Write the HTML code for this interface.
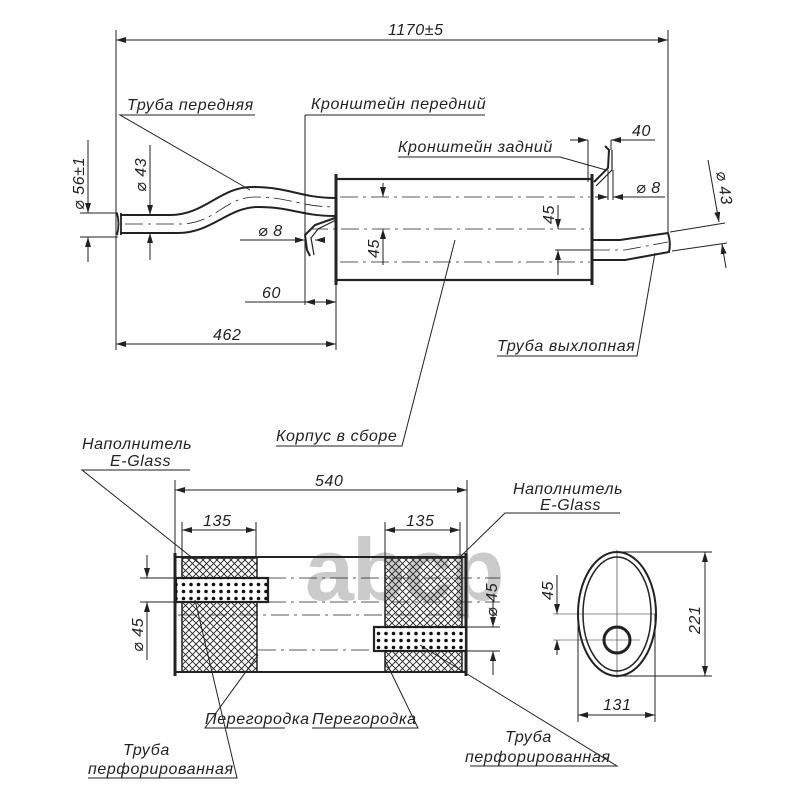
<!DOCTYPE html>
<html><head><meta charset="utf-8"><style>
html,body{margin:0;padding:0;background:#fff}
svg text{font-family:"Liberation Sans","DejaVu Sans",sans-serif;font-style:italic;fill:#222;letter-spacing:0.6px}
</style></head><body>
<svg width="800" height="800" viewBox="0 0 800 800" xmlns="http://www.w3.org/2000/svg">
<defs>
<marker id="a" viewBox="0 0 10 6" refX="10" refY="3" markerWidth="10" markerHeight="6" orient="auto-start-reverse" markerUnits="userSpaceOnUse"><path d="M0,0 L10,3 L0,6 z" fill="#222"/></marker>
<pattern id="hatch" width="7" height="7" patternUnits="userSpaceOnUse"><path d="M0,0 L7,7 M7,0 L0,7" stroke="#222" stroke-width="0.9"/></pattern>
<pattern id="dots" width="7.5" height="7" patternUnits="userSpaceOnUse"><circle cx="3.5" cy="3.5" r="1.8" fill="#111"/></pattern>
</defs>
<!-- watermark -->
<text x="305" y="600" font-size="88" font-weight="bold" style="font-style:normal;fill:#c2c2c2;letter-spacing:-2px" opacity="0.85">abcp</text>

<g stroke="#222" fill="none" stroke-width="1">
<line x1="116" y1="30" x2="116" y2="350"/>
<line x1="668" y1="30" x2="668" y2="232"/>
<line x1="116" y1="40" x2="668" y2="40" marker-start="url(#a)" marker-end="url(#a)"/>
<rect x="336" y="179" width="256" height="101" stroke-width="2.2"/>
<line x1="336" y1="174" x2="336" y2="285" stroke-width="3"/>
<line x1="592" y1="174" x2="592" y2="285" stroke-width="3"/>
<g stroke-dasharray="18,5,3,5" stroke-width="0.8">
<line x1="340" y1="197" x2="590" y2="197"/>
<line x1="310" y1="229" x2="590" y2="229"/>
<line x1="340" y1="262" x2="590" y2="262"/>
<path d="M125,224 L180,224 C215,224 225,197 255,197 C290,197 300,207 336,207"/>
<path d="M592,250 L625,250 L668,242"/>
</g>
<path d="M120,215 L170,215 C205,215 220,187 252,187 C290,187 300,198 336,198" stroke-width="2"/>
<path d="M120,233 L178,233 C212,233 228,207 258,207 C292,207 300,216 336,216" stroke-width="2"/>
<path d="M117,213 Q120,224 117,235 M121,213 L121,235" stroke-width="1.8"/>
<path d="M335,218 L315,225 L305,235 L307,250 L310,256" stroke-width="2"/>
<path d="M336,220 L318,229 L311,238 L314,255" stroke-width="1.2"/>
<path d="M594,182 L608,168 L609,150 L605,146" stroke-width="2"/>
<path d="M596,186 L612,170 L612,150" stroke-width="1.2"/>
<path d="M592,240 L620,240 L668,233 Q671,243 669,252 L625,260 L592,260" stroke-width="2"/>
<line x1="305" y1="115" x2="305" y2="305"/>
<line x1="336" y1="285" x2="336" y2="350"/>
<line x1="245" y1="302" x2="305" y2="302"/>
<line x1="305" y1="302" x2="336" y2="302" marker-start="url(#a)" marker-end="url(#a)"/>
<line x1="116" y1="344" x2="336" y2="344" marker-start="url(#a)" marker-end="url(#a)"/>
<line x1="240" y1="240" x2="305" y2="240" marker-end="url(#a)"/>
<line x1="315" y1="240" x2="325" y2="240" marker-start="url(#a)"/>
<line x1="80" y1="213" x2="118" y2="213"/><line x1="80" y1="237" x2="118" y2="237"/>
<line x1="88" y1="140" x2="88" y2="213" marker-end="url(#a)"/>
<line x1="88" y1="262" x2="88" y2="237" marker-end="url(#a)"/>
<line x1="150" y1="145" x2="150" y2="215" marker-end="url(#a)"/>
<line x1="150" y1="260" x2="150" y2="233" marker-end="url(#a)"/>
<line x1="383" y1="183" x2="383" y2="197" marker-end="url(#a)"/>
<line x1="383" y1="265" x2="383" y2="229" marker-end="url(#a)"/>
<line x1="558" y1="205" x2="558" y2="229" marker-end="url(#a)"/>
<line x1="558" y1="275" x2="558" y2="250" marker-end="url(#a)"/>
<line x1="555" y1="250" x2="592" y2="250"/>
<line x1="588" y1="140" x2="588" y2="182"/><line x1="611" y1="140" x2="611" y2="150"/>
<line x1="570" y1="140" x2="588" y2="140" marker-end="url(#a)"/>
<line x1="655" y1="140" x2="611" y2="140" marker-end="url(#a)"/>
<line x1="608" y1="170" x2="608" y2="200"/><line x1="613" y1="170" x2="613" y2="200"/>
<line x1="595" y1="197" x2="608" y2="197" marker-end="url(#a)"/>
<line x1="665" y1="197" x2="613" y2="197" marker-end="url(#a)"/>
<line x1="670" y1="232" x2="725" y2="223"/><line x1="672" y1="251" x2="727" y2="243"/>
<line x1="708" y1="160" x2="719" y2="222" marker-end="url(#a)"/>
<line x1="726" y1="268" x2="722" y2="244" marker-end="url(#a)"/>
<polyline points="255,115 120,115 250,190"/>
<line x1="305" y1="115" x2="485" y2="115"/>
<polyline points="398,157 560,157 606,170"/>
<polyline points="497,356 637,356 655,253"/>
<polyline points="276,446 402,446 455,240"/>

<line x1="175" y1="480" x2="175" y2="553"/><line x1="467" y1="480" x2="467" y2="553"/>
<line x1="175" y1="490" x2="467" y2="490" marker-start="url(#a)" marker-end="url(#a)"/>
<line x1="182" y1="522" x2="182" y2="557"/><line x1="256" y1="522" x2="256" y2="557"/>
<line x1="182" y1="530" x2="256" y2="530" marker-start="url(#a)" marker-end="url(#a)"/>
<line x1="385" y1="522" x2="385" y2="557"/><line x1="460" y1="522" x2="460" y2="557"/>
<line x1="385" y1="530" x2="460" y2="530" marker-start="url(#a)" marker-end="url(#a)"/>
<rect x="182" y="558" width="75" height="114" fill="url(#hatch)" stroke-width="1.5"/>
<rect x="385" y="558" width="77" height="114" fill="url(#hatch)" stroke-width="1.5"/>
<rect x="175" y="557" width="291" height="115" stroke-width="2"/>
<line x1="175" y1="553" x2="175" y2="676" stroke-width="3"/>
<line x1="466" y1="553" x2="466" y2="676" stroke-width="3"/>
<rect x="176" y="578" width="92" height="24" fill="#fff" stroke-width="2.2"/>
<rect x="176" y="578" width="92" height="24" fill="url(#dots)" stroke="none"/>
<rect x="374" y="627" width="92" height="24" fill="#fff" stroke-width="2.2"/>
<rect x="374" y="627" width="92" height="24" fill="url(#dots)" stroke="none"/>
<g stroke-dasharray="18,5,3,5" stroke-width="0.8">
<line x1="268" y1="578" x2="500" y2="578"/>
<line x1="268" y1="602" x2="500" y2="602"/>
<line x1="178" y1="615" x2="466" y2="615"/>
<line x1="258" y1="650" x2="374" y2="650"/>
</g>
<line x1="140" y1="578" x2="176" y2="578"/><line x1="140" y1="602" x2="176" y2="602"/>
<line x1="147" y1="555" x2="147" y2="578" marker-end="url(#a)"/>
<line x1="147" y1="660" x2="147" y2="602" marker-end="url(#a)"/>
<line x1="466" y1="627" x2="500" y2="627"/><line x1="466" y1="651" x2="500" y2="651"/>
<line x1="493" y1="600" x2="493" y2="627" marker-end="url(#a)"/>
<line x1="493" y1="675" x2="493" y2="651" marker-end="url(#a)"/>
<polyline points="190,470 82,470 205,568"/>
<polyline points="620,513 505,513 460,557"/>
<polyline points="285,728 205,728 258,655"/>
<polyline points="312,728 418,728 385,660"/>
<polyline points="88,778 237,778 195,600"/>
<polyline points="470,766 617,766 420,645"/>
<ellipse cx="617" cy="614" rx="39" ry="62" stroke-width="2"/>
<ellipse cx="617" cy="614" rx="34" ry="57" stroke-width="1.5"/>
<circle cx="617" cy="640" r="13" stroke-width="3"/>
<line x1="617" y1="550" x2="617" y2="678" stroke-width="0.6"/>
<line x1="553" y1="614" x2="655" y2="614" stroke-width="0.6"/>
<line x1="553" y1="640" x2="640" y2="640" stroke-width="0.6"/>
<line x1="557" y1="575" x2="557" y2="614" marker-end="url(#a)"/>
<line x1="557" y1="655" x2="557" y2="640" marker-end="url(#a)"/>
<line x1="617" y1="552" x2="712" y2="552"/><line x1="617" y1="676" x2="712" y2="676"/>
<line x1="705" y1="552" x2="705" y2="676" marker-start="url(#a)" marker-end="url(#a)"/>
<line x1="578" y1="614" x2="578" y2="722"/><line x1="655" y1="614" x2="655" y2="722"/>
<line x1="578" y1="715" x2="655" y2="715" marker-start="url(#a)" marker-end="url(#a)"/>
</g>

<g font-size="16">
<text x="388" y="35">1170±5</text>
<text x="127" y="110">Труба передняя</text>
<text x="311" y="109">Кронштейн передний</text>
<text x="398" y="152">Кронштейн задний</text>
<text x="632" y="136">40</text>
<text x="636" y="193">⌀ 8</text>
<text x="258" y="236">⌀ 8</text>
<text x="262" y="298">60</text>
<text x="213" y="340">462</text>
<text x="497" y="351">Труба выхлопная</text>
<text x="276" y="441">Корпус в сборе</text>
<text transform="translate(84,210) rotate(-90)">⌀ 56±1</text>
<text transform="translate(146,192) rotate(-90)">⌀ 43</text>
<text transform="translate(379,258) rotate(-90)">45</text>
<text transform="translate(554,224) rotate(-90)">45</text>
<text transform="translate(716,172) rotate(80)">⌀ 43</text>
<text x="315" y="486">540</text>
<text x="203" y="526">135</text>
<text x="406" y="526">135</text>
<text x="82" y="449">Наполнитель</text>
<text x="110" y="466">E-Glass</text>
<text x="513" y="494">Наполнитель</text>
<text x="540" y="510">E-Glass</text>
<text x="205" y="724">Перегородка</text>
<text x="312" y="724">Перегородка</text>
<text x="123" y="755">Труба</text>
<text x="88" y="774">перфорированная</text>
<text x="505" y="742">Труба</text>
<text x="465" y="762">перфорированная</text>
<text transform="translate(143,652) rotate(-90)">⌀ 45</text>
<text transform="translate(497,617) rotate(-90)">⌀ 45</text>
<text transform="translate(553,600) rotate(-90)">45</text>
<text transform="translate(700,634) rotate(-90)">221</text>
<text x="603" y="710">131</text>
</g>
</svg>
</body></html>
